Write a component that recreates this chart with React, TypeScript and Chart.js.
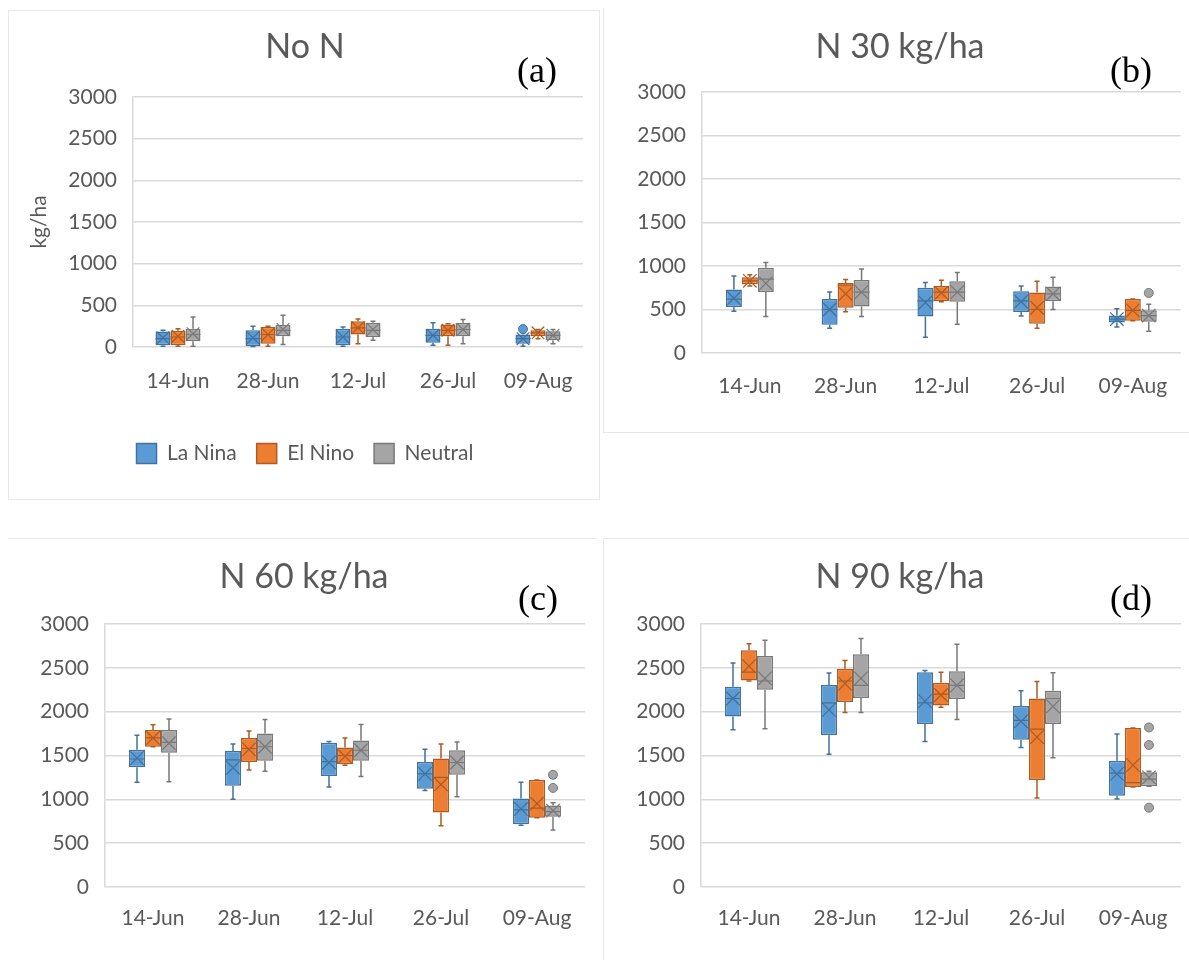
import React, { useEffect, useRef } from 'react';
import { Chart, registerables } from 'chart.js';

Chart.register(...registerables);

// ---------- shared labels ----------
const categories = ['14-Jun', '28-Jun', '12-Jul', '26-Jul', '09-Aug'];
const seriesNames = ['La Nina', 'El Nino', 'Neutral'];
const yTickStep = 500;
const yMin = 0;
const yMax = 3000;

// Each entry: [min, q1, median, mean, q3, max]
// ---------- (a) No N ----------
const noN_LaNina = [[10, 20, 100, 110, 185, 200], [5, 10, 100, 110, 200, 250], [10, 20, 120, 120, 220, 240], [20, 50, 140, 140, 220, 290], [10, 40, 100, 100, 150, 170]];
const noN_ElNino = [[10, 25, 120, 130, 195, 220], [10, 40, 150, 150, 240, 250], [40, 150, 230, 230, 310, 335], [20, 130, 200, 200, 270, 280], [100, 130, 170, 170, 200, 210]];
const noN_Neutral = [[10, 70, 150, 160, 220, 360], [30, 130, 200, 210, 265, 380], [80, 120, 200, 210, 290, 310], [40, 130, 210, 210, 290, 330], [40, 80, 140, 140, 190, 210]];
const noN_LaNina_out = [[], [], [], [], [215]];
const noN_ElNino_out = [[], [], [], [], []];
const noN_Neutral_out = [[], [], [], [], []];

// ---------- (b) N 30 kg/ha ----------
const n30_LaNina = [[480, 530, 620, 630, 730, 885], [285, 325, 500, 500, 620, 700], [180, 420, 600, 580, 750, 810], [425, 470, 600, 590, 710, 770], [300, 350, 390, 390, 430, 510]];
const n30_ElNino = [[770, 790, 830, 830, 870, 900], [475, 520, 780, 680, 805, 845], [590, 595, 700, 690, 770, 835], [285, 335, 500, 520, 695, 825], [370, 370, 490, 490, 620, 620]];
const n30_Neutral = [[420, 700, 850, 800, 980, 1040], [420, 535, 700, 700, 840, 965], [330, 590, 700, 700, 825, 925], [500, 595, 680, 680, 765, 870], [250, 360, 430, 430, 490, 560]];
const n30_LaNina_out = [[], [], [], [], []];
const n30_ElNino_out = [[], [], [], [], []];
const n30_Neutral_out = [[], [], [], [], [690]];

// ---------- (c) N 60 kg/ha ----------
const n60_LaNina = [[1195, 1365, 1460, 1470, 1565, 1730], [1000, 1155, 1450, 1360, 1550, 1630], [1140, 1265, 1430, 1420, 1645, 1660], [1100, 1120, 1290, 1290, 1425, 1570], [705, 715, 880, 890, 1010, 1195]];
const n60_ElNino = [[1600, 1600, 1700, 1700, 1790, 1850], [1335, 1425, 1580, 1570, 1700, 1780], [1390, 1400, 1500, 1490, 1590, 1700], [700, 850, 1250, 1170, 1465, 1630], [790, 790, 900, 950, 1220, 1220]];
const n60_Neutral = [[1200, 1530, 1650, 1640, 1790, 1915], [1320, 1440, 1600, 1600, 1750, 1910], [1260, 1440, 1560, 1560, 1670, 1855], [1030, 1280, 1420, 1420, 1560, 1655], [650, 800, 860, 870, 930, 960]];
const n60_LaNina_out = [[], [], [], [], []];
const n60_ElNino_out = [[], [], [], [], []];
const n60_Neutral_out = [[], [], [], [], [1280, 1130]];

// ---------- (d) N 90 kg/ha ----------
const n90_LaNina = [[1795, 1945, 2150, 2150, 2285, 2555], [1515, 1730, 2100, 2020, 2305, 2440], [1660, 1860, 2100, 2120, 2450, 2470], [1590, 1680, 1900, 1890, 2065, 2240], [1005, 1040, 1300, 1290, 1440, 1745]];
const n90_ElNino = [[2350, 2355, 2450, 2520, 2700, 2775], [1990, 2110, 2350, 2320, 2490, 2585], [2050, 2070, 2200, 2190, 2330, 2450], [1015, 1220, 1800, 1710, 2150, 2345], [1140, 1140, 1190, 1390, 1815, 1815]];
const n90_Neutral = [[1805, 2250, 2350, 2380, 2635, 2815], [1990, 2155, 2300, 2380, 2655, 2835], [1910, 2145, 2300, 2300, 2460, 2770], [1475, 1860, 2150, 2060, 2240, 2445], [1150, 1150, 1230, 1250, 1310, 1320]];
const n90_LaNina_out = [[], [], [], [], []];
const n90_ElNino_out = [[], [], [], [], []];
const n90_Neutral_out = [[], [], [], [], [1820, 1620, 905]];

const fillColors = ['#5B9BD5', '#ED7D31', '#A5A5A5'];
const edgeColors = ['#41719C', '#AE5A21', '#787878'];
const TEXT = '#595959';
const GRID = '#D9D9D9';
const FONT = 'Lato, "Open Sans", sans-serif';

const boxPlugin = {
  id: 'boxWhisker',
  afterDatasetsDraw(chart: any) {
    const ctx = chart.ctx;
    const ys = chart.scales.y;
    const py = (v: number) => ys.getPixelForValue(v);
    chart.data.datasets.forEach((ds: any, di: number) => {
      const meta = chart.getDatasetMeta(di);
      meta.data.forEach((el: any, i: number) => {
        const s = ds.stats[i];
        const [mn, q1, med, mean, q3, mx] = s;
        const x = el.x;
        const w = el.width;
        const edge = ds.borderColor;
        ctx.save();
        ctx.strokeStyle = edge;
        ctx.lineWidth = 1.5;
        ctx.beginPath();
        ctx.moveTo(x, py(mx)); ctx.lineTo(x, py(q3));
        ctx.moveTo(x, py(q1)); ctx.lineTo(x, py(mn));
        ctx.moveTo(x - 2.5, py(mx)); ctx.lineTo(x + 2.5, py(mx));
        ctx.moveTo(x - 2.5, py(mn)); ctx.lineTo(x + 2.5, py(mn));
        ctx.stroke();
        ctx.lineWidth = 1.2;
        ctx.beginPath();
        ctx.moveTo(x - w / 2, py(med)); ctx.lineTo(x + w / 2, py(med));
        const r = w * 0.42;
        const ym = py(mean);
        ctx.moveTo(x - r, ym - r); ctx.lineTo(x + r, ym + r);
        ctx.moveTo(x - r, ym + r); ctx.lineTo(x + r, ym - r);
        ctx.stroke();
        (ds.outliers[i] || []).forEach((o: number) => {
          ctx.beginPath();
          ctx.arc(x, py(o), 4.5, 0, Math.PI * 2);
          ctx.fillStyle = ds.backgroundColor;
          ctx.fill();
          ctx.lineWidth = 1;
          ctx.strokeStyle = edge;
          ctx.stroke();
        });
        ctx.restore();
      });
    });
  },
};

type PanelCfg = {
  title: string;
  tag: string;
  stats: number[][][];
  outliers: number[][][];
  left: number; top: number; width: number; height: number;
  padL: number; padR: number; padB: number;
  yW: number; xH: number;
  titleTop: number; titleBottom: number;
  xPad: number;
  legend: boolean;
  yTitle: boolean;
  tagX: number; tagY: number;
};

const panels: PanelCfg[] = [
  {
    title: 'No N', tag: '(a)',
    stats: [noN_LaNina, noN_ElNino, noN_Neutral],
    outliers: [noN_LaNina_out, noN_ElNino_out, noN_Neutral_out],
    left: 8, top: 10, width: 592, height: 490,
    padL: 19, padR: 17, padB: 26, yW: 106, xH: 76,
    titleTop: 16.6, titleBottom: 29.6, xPad: 22, legend: true, yTitle: true,
    tagX: 537, tagY: 70,
  },
  {
    title: 'N 30 kg/ha', tag: '(b)',
    stats: [n30_LaNina, n30_ElNino, n30_Neutral],
    outliers: [n30_LaNina_out, n30_ElNino_out, n30_Neutral_out],
    left: 603, top: 8, width: 586, height: 424,
    padL: 16, padR: 8, padB: 0, yW: 83, xH: 79,
    titleTop: 18.6, titleBottom: 24.6, xPad: 21, legend: false, yTitle: false,
    tagX: 1131, tagY: 70,
  },
  {
    title: 'N 60 kg/ha', tag: '(c)',
    stats: [n60_LaNina, n60_ElNino, n60_Neutral],
    outliers: [n60_LaNina_out, n60_ElNino_out, n60_Neutral_out],
    left: 8, top: 538, width: 595, height: 422,
    padL: 15, padR: 18, padB: 0, yW: 82, xH: 73,
    titleTop: 18.6, titleBottom: 26.6, xPad: 19, legend: false, yTitle: false,
    tagX: 538, tagY: 598,
  },
  {
    title: 'N 90 kg/ha', tag: '(d)',
    stats: [n90_LaNina, n90_ElNino, n90_Neutral],
    outliers: [n90_LaNina_out, n90_ElNino_out, n90_Neutral_out],
    left: 603, top: 538, width: 586, height: 422,
    padL: 16, padR: 8, padB: 0, yW: 82, xH: 73,
    titleTop: 18.6, titleBottom: 26.6, xPad: 19, legend: false, yTitle: false,
    tagX: 1131, tagY: 598,
  },
];

function BoxPanel({ cfg }: { cfg: PanelCfg }) {
  const ref = useRef<HTMLCanvasElement>(null);
  useEffect(() => {
    if (!ref.current) return;
    const chart = new Chart(ref.current, {
      type: 'bar',
      data: {
        labels: categories,
        datasets: cfg.stats.map((st, k) => ({
          label: seriesNames[k],
          data: st.map((t) => [t[1], t[4]]),
          stats: st,
          outliers: cfg.outliers[k],
          backgroundColor: fillColors[k],
          borderColor: edgeColors[k],
          borderWidth: 1.5,
          borderSkipped: false,
          categoryPercentage: 0.5,
          barPercentage: 1.0,
        })) as any,
      },
      options: {
        animation: false,
        responsive: false,
        events: [],
        layout: { padding: { left: cfg.padL, right: cfg.padR, top: 0, bottom: cfg.padB } },
        plugins: {
          legend: {
            display: cfg.legend,
            position: 'bottom',
            labels: {
              boxWidth: 20, boxHeight: 20, padding: 20, color: TEXT,
              font: { family: FONT, size: 21 },
            },
          },
          title: {
            display: true, text: cfg.title, color: TEXT,
            font: { family: FONT, size: 34, weight: 'normal', lineHeight: 1.2 },
            padding: { top: cfg.titleTop, bottom: cfg.titleBottom },
          },
          tooltip: { enabled: false },
        },
        scales: {
          x: {
            grid: { display: false, drawTicks: false },
            border: { display: false },
            ticks: { color: TEXT, font: { family: FONT, size: 21 }, padding: cfg.xPad, maxRotation: 0 },
            afterFit: (s: any) => { s.height = cfg.xH; },
          },
          y: {
            min: yMin, max: yMax,
            ticks: {
              stepSize: yTickStep, color: TEXT, font: { family: FONT, size: 21 }, padding: 16,
              callback: (v: any) => String(v),
            },
            grid: { color: GRID, lineWidth: 1.5, drawTicks: false },
            border: { color: GRID, width: 1.5 },
            title: {
              display: cfg.yTitle, text: 'kg/ha', color: TEXT,
              font: { family: FONT, size: 21 }, padding: 0,
            },
            afterFit: (s: any) => { s.width = cfg.yW; },
          },
        },
      } as any,
      plugins: [boxPlugin],
    });
    return () => chart.destroy();
  }, []);
  return (
    <canvas
      ref={ref}
      width={cfg.width}
      height={cfg.height}
      style={{ position: 'absolute', left: cfg.left, top: cfg.top, width: cfg.width, height: cfg.height }}
    />
  );
}

export default function App() {
  const frame = '1px solid #E8E8E8';
  return (
    <div style={{ position: 'absolute', left: 0, top: 0, width: 1189, height: 960, background: '#fff', overflow: 'hidden' }}>
      <div style={{ position: 'absolute', left: 8, top: 10, width: 592, height: 490, border: frame, boxSizing: 'border-box' }} />
      <div style={{ position: 'absolute', left: 603, top: 8, width: 600, height: 425, borderLeft: frame, borderBottom: frame, boxSizing: 'border-box' }} />
      <div style={{ position: 'absolute', left: 8, top: 538, width: 588, height: 430, borderTop: frame, boxSizing: 'border-box' }} />
      <div style={{ position: 'absolute', left: 603, top: 538, width: 600, height: 430, borderTop: frame, borderLeft: frame, boxSizing: 'border-box' }} />
      {panels.map((p) => (
        <BoxPanel key={p.tag} cfg={p} />
      ))}
      {panels.map((p) => (
        <div
          key={p.tag + 't'}
          style={{
            position: 'absolute', left: p.tagX, top: p.tagY, transform: 'translate(-50%, -50%)',
            fontFamily: '"Liberation Serif", "Times New Roman", serif', fontSize: 36, color: '#000', lineHeight: 1,
          }}
        >
          {p.tag}
        </div>
      ))}
    </div>
  );
}
